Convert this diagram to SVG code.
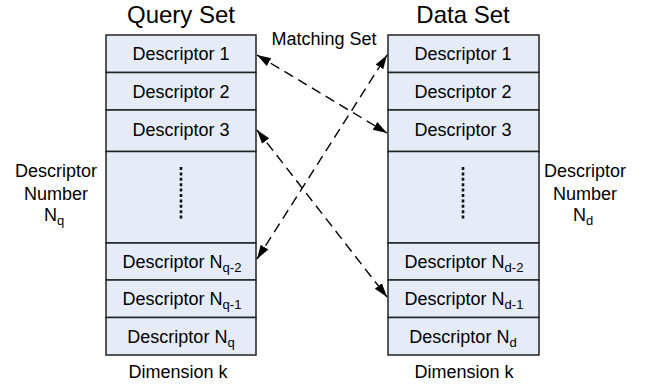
<svg xmlns="http://www.w3.org/2000/svg" width="647" height="390" viewBox="0 0 647 390">
<defs>
<style>
text{font-family:"Liberation Sans",Arial,sans-serif;fill:#000;font-size:18px}
.t{text-anchor:middle}
.h{font-size:24px;text-anchor:middle}
.c{fill:#E5ECF7;stroke:#222;stroke-width:1.5}
.dots{stroke:#111;stroke-width:2.6;stroke-dasharray:3 2.4;fill:none}
.ln{stroke:#000;stroke-width:1.4;stroke-dasharray:10 6;fill:none;marker-start:url(#ah);marker-end:url(#ah)}
.s{font-size:13px}
</style>
<marker id="ah" markerUnits="userSpaceOnUse" markerWidth="15" markerHeight="12" viewBox="0 0 15 12" refX="14" refY="6" orient="auto-start-reverse">
<path d="M0,1.5 L14,6 L0,10.5 Z" fill="#000"/>
</marker>
</defs>
<text class="h" x="181" y="23">Query Set</text>
<text class="h" x="463" y="23">Data Set</text>
<text class="t" x="324" y="45">Matching Set</text>
<g id="query-set">
<rect class="c" x="106" y="35" width="150" height="37.5"/>
<rect class="c" x="106" y="72.5" width="150" height="37.5"/>
<rect class="c" x="106" y="110" width="150" height="41.5"/>
<rect class="c" x="106" y="151.5" width="150" height="91.5"/>
<rect class="c" x="106" y="243" width="150" height="37"/>
<rect class="c" x="106" y="280" width="150" height="37.5"/>
<rect class="c" x="106" y="317.5" width="150" height="37.5"/>
<line class="dots" x1="181" y1="167" x2="181" y2="221"/>
<text class="t" x="181" y="60">Descriptor 1</text>
<text class="t" x="181" y="97.5">Descriptor 2</text>
<text class="t" x="181" y="136">Descriptor 3</text>
<text class="t" x="182" y="268">Descriptor N<tspan class="s" dy="4">q-2</tspan></text>
<text class="t" x="182" y="305">Descriptor N<tspan class="s" dy="4">q-1</tspan></text>
<text class="t" x="181" y="342.5">Descriptor N<tspan class="s" dy="4">q</tspan></text>
</g>
<g id="data-set">
<rect class="c" x="388" y="35" width="151" height="37.5"/>
<rect class="c" x="388" y="72.5" width="151" height="37.5"/>
<rect class="c" x="388" y="110" width="151" height="41.5"/>
<rect class="c" x="388" y="151.5" width="151" height="91.5"/>
<rect class="c" x="388" y="243" width="151" height="37"/>
<rect class="c" x="388" y="280" width="151" height="37.5"/>
<rect class="c" x="388" y="317.5" width="151" height="37.5"/>
<line class="dots" x1="463" y1="167" x2="463" y2="221"/>
<text class="t" x="463" y="60">Descriptor 1</text>
<text class="t" x="463" y="97.5">Descriptor 2</text>
<text class="t" x="463" y="136">Descriptor 3</text>
<text class="t" x="464" y="268">Descriptor N<tspan class="s" dy="4">d-2</tspan></text>
<text class="t" x="464" y="305">Descriptor N<tspan class="s" dy="4">d-1</tspan></text>
<text class="t" x="463" y="342.5">Descriptor N<tspan class="s" dy="4">d</tspan></text>
</g>
<g id="query-number">
<text class="t" x="56" y="177">Descriptor</text>
<text class="t" x="56" y="200">Number</text>
<text class="t" x="54" y="221">N<tspan class="s" dy="4">q</tspan></text>
</g>
<g id="data-number">
<text class="t" x="585" y="177">Descriptor</text>
<text class="t" x="585" y="200">Number</text>
<text class="t" x="583" y="221">N<tspan class="s" dy="4">d</tspan></text>
</g>
<text class="t" x="178" y="378">Dimension k</text>
<text class="t" x="464" y="378">Dimension k</text>
<g id="connectors">
<line class="ln" x1="257" y1="55" x2="387" y2="133"/>
<line class="ln" x1="257" y1="130" x2="387" y2="297"/>
<line class="ln" x1="257" y1="259" x2="387" y2="55"/>
</g>
</svg>
